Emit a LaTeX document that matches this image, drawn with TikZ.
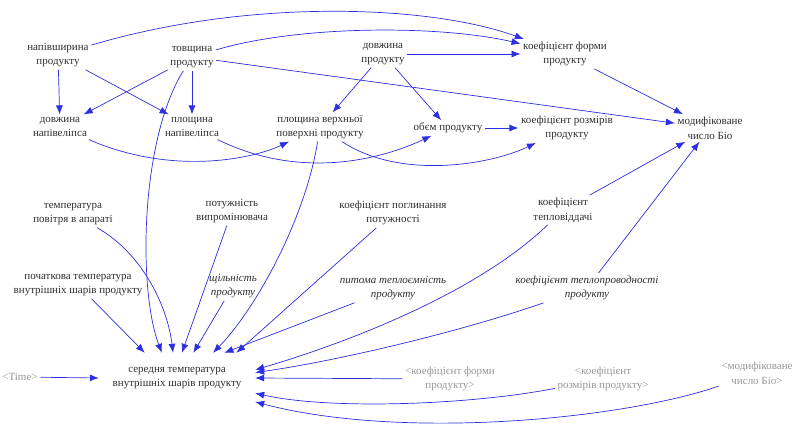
\documentclass[tikz,border=0pt]{standalone}
\usepackage{fontspec}
\setmainfont{Liberation Serif}
\usetikzlibrary{arrows.meta}
\definecolor{lnc}{RGB}{45,45,225}
\definecolor{txc}{RGB}{45,45,45}
\definecolor{grc}{RGB}{150,150,150}
\begin{document}
\begin{tikzpicture}[x=1pt,y=-1pt,
  v/.style={align=center,text=txc,font=\fontsize{11}{14.5}\selectfont,inner sep=2.5pt},
  gv/.style={v,text=grc},
  iv/.style={v,font=\fontsize{11}{14.5}\selectfont\itshape},
  arr/.style={draw=lnc,line width=0.7pt,-{Latex[length=9pt,width=7pt]}}]
\useasboundingbox (0,0) rectangle (795,428);
% nodes
\node[v] (A) at (58,55) {напівширина\\продукту};
\node[v] (B) at (192,57) {товщина\\продукту};
\node[v] (C) at (383,54) {довжина\\продукту};
\node[v] (D) at (565,54) {коефіцієнт форми\\продукту};
\node[v] (E) at (60,127) {довжина\\напівеліпса};
\node[v] (F) at (192,127) {площина\\напівеліпса};
\node[v] (G) at (320,127) {площина верхньої\\поверхні продукту};
\node[v] (H) at (448,128) {обєм продукту};
\node[v] (I) at (567,128) {коефіцієнт розмірів\\продукту};
\node[v] (J) at (710,128) {модифіковане\\число Біо};
\node[v] (K) at (73,214) {температура\\повітря в апараті};
\node[v] (L) at (232,211) {потужність\\випромінювача};
\node[v] (M) at (393,213) {коефіцієнт поглинання\\потужності};
\node[v] (N) at (563,210) {коефіцієнт\\тепловіддачі};
\node[v] (O) at (78,285) {початкова температура\\внутрішніх шарів продукту};
\node[iv] (P) at (233,286) {щільність\\продукту};
\node[iv] (Q) at (393,288) {питома теплоємність\\продукту};
\node[iv] (R) at (587,288) {коефіцієнт теплопроводності\\продукту};
\node[v,minimum width=156pt,minimum height=50pt,inner sep=0pt] (S) at (177,378) {середня температура\\внутрішніх шарів продукту};
\node[gv] (T) at (20,377) {<Time>};
\node[gv] (U) at (450,379) {<коефіцієнт форми\\продукту>};
\node[gv] (V) at (603,379) {<коефіцієнт\\розмірів продукту>};
\node[gv] (W) at (757,373) {<модифіковане\\число Біо>};
% top connectors
\draw[arr] (A) .. controls (250,-2) and (430,5) .. (D);
\draw[arr] (B) .. controls (300,25) and (440,25) .. (D);
\draw[arr] (C) -- (D);
\draw[arr] (B) -- (J);
\draw[arr] (D) -- (J);
\draw[arr] (A) -- (E);
\draw[arr] (A) -- (F);
\draw[arr] (B) -- (E);
\draw[arr] (B) -- (F);
\draw[arr] (C) -- (G);
\draw[arr] (C) -- (H);
\draw[arr] (H) -- (I);
\draw[arr] (E) .. controls (170,175) and (250,160) .. (G);
\draw[arr] (F) .. controls (300,180) and (380,160) .. (H);
\draw[arr] (G) .. controls (400,180) and (490,165) .. (I);
\draw[arr] (N) -- (J);
\draw[arr] (R) -- (J);
% into S
\draw[arr] (O) -- (S.142);
\draw[arr] (B) .. controls (140,140) and (138,290) .. (S.121);
\draw[arr] (K) .. controls (145,255) and (168,310) .. (S.99);
\draw[arr] (L) -- (S.79);
\draw[arr] (P) -- (S.57);
\draw[arr] (G) .. controls (305,220) and (255,310) .. (S.35);
\draw[arr] (Q) -- (S.28);
\draw[arr] (M) -- (S.23);
\draw[arr] (N) .. controls (475,295) and (340,345) .. (S.6);
\draw[arr] (R) .. controls (450,335) and (330,362) .. (S.4);
\draw[arr] (T) -- (S.180);
\draw[arr] (U) -- (S.0);
\draw[arr] (V) .. controls (470,405) and (330,410) .. (S.-11);
\draw[arr] (W) .. controls (620,420) and (400,440) .. (S.-17);
\end{tikzpicture}
\end{document}
